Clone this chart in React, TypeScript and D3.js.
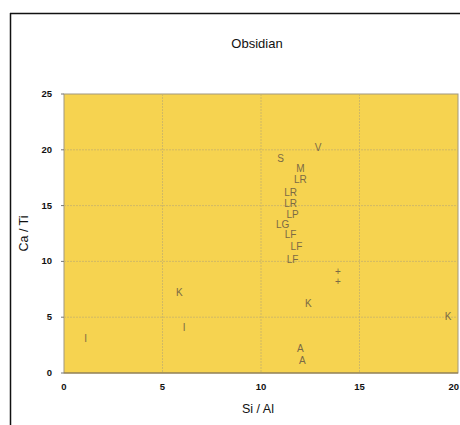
import * as d3 from "d3";
import { useEffect, useRef } from "react";

// sample codes and their ratios
const codes = ["V", "S", "M", "LR", "LR", "LR", "LP", "LG", "LF", "LF", "LF", "+", "+", "K", "K", "A", "A", "K", "I", "I"];
const siAl = [12.9, 11.0, 12.0, 12.0, 11.5, 11.5, 11.6, 11.1, 11.5, 11.8, 11.6, 13.9, 13.9, 12.4, 19.5, 12.0, 12.1, 5.85, 6.1, 1.1];
const caTi = [20.2, 19.2, 18.3, 17.3, 16.2, 15.2, 14.2, 13.3, 12.4, 11.3, 10.2, 9.1, 8.2, 6.2, 5.1, 2.2, 1.1, 7.2, 4.1, 3.1];

const xTicks = [0, 5, 10, 15, 20];
const yTicks = [0, 5, 10, 15, 20, 25];

const W = 460;
const H = 425;
const margin = { top: 94, right: 2, bottom: 52, left: 64 };

export default function App() {
  const ref = useRef<SVGSVGElement>(null);

  useEffect(() => {
    const svg = d3.select(ref.current);
    svg.selectAll("*").remove();

    const x = d3.scaleLinear().domain([0, 20]).range([margin.left, W - margin.right]);
    const y = d3.scaleLinear().domain([0, 25]).range([H - margin.bottom, margin.top]);

    svg.append("rect").attr("width", W).attr("height", H).attr("fill", "#fff");

    // outer frame (left + top)
    svg.append("line").attr("x1", 10.5).attr("x2", 10.5).attr("y1", 13).attr("y2", H).attr("stroke", "#111").attr("stroke-width", 1.5);
    svg.append("line").attr("x1", 10).attr("x2", W).attr("y1", 13.5).attr("y2", 13.5).attr("stroke", "#111").attr("stroke-width", 1.5);

    // plot area
    svg.append("rect")
      .attr("x", x(0)).attr("y", y(25))
      .attr("width", x(20) - x(0)).attr("height", y(0) - y(25))
      .attr("fill", "#f6d350")
      .attr("stroke", "#a09880");

    const grid = svg.append("g").attr("stroke", "#c7b26a").attr("stroke-width", 0.8).attr("stroke-dasharray", "2,1");
    grid.selectAll(".gx").data(xTicks.slice(1, -1)).enter().append("line")
      .attr("x1", d => x(d)).attr("x2", d => x(d)).attr("y1", y(25)).attr("y2", y(0));
    grid.selectAll(".gy").data(yTicks.slice(1, -1)).enter().append("line")
      .attr("x1", x(0)).attr("x2", x(20)).attr("y1", d => y(d)).attr("y2", d => y(d));

    // axis lines
    svg.append("line").attr("x1", x(0)).attr("x2", x(20)).attr("y1", y(0)).attr("y2", y(0)).attr("stroke", "#8a7440").attr("stroke-width", 1.2);

    const font = "Liberation Sans, Arial, sans-serif";

    svg.append("g").selectAll("line").data(yTicks).enter().append("line")
      .attr("x1", x(0) - 3).attr("x2", x(0)).attr("y1", d => y(d)).attr("y2", d => y(d))
      .attr("stroke", "#777");

    svg.append("g").selectAll("text").data(yTicks).enter().append("text")
      .attr("x", x(0) - 12).attr("y", d => y(d) + 3)
      .attr("text-anchor", "end")
      .attr("font-family", font).attr("font-size", 9.5).attr("font-weight", "bold").attr("fill", "#111")
      .text(d => d);

    // last label would run past the right edge, so pull it in
    svg.append("g").selectAll("text").data(xTicks).enter().append("text")
      .attr("x", d => (d === 20 ? W - 1 : x(d)))
      .attr("y", y(0) + 17)
      .attr("text-anchor", d => (d === 20 ? "end" : "middle"))
      .attr("font-family", font).attr("font-size", 9.5).attr("font-weight", "bold").attr("fill", "#111")
      .text(d => d);

    // point labels
    svg.append("g").selectAll("text").data(codes).enter().append("text")
      .attr("x", (_, i) => x(siAl[i]))
      .attr("y", (_, i) => y(caTi[i]) + 3.5)
      .attr("text-anchor", "middle")
      .attr("font-family", font).attr("font-size", 10).attr("fill", "#7b6a45")
      .text(d => d);

    svg.append("text")
      .attr("x", 257).attr("y", 48)
      .attr("text-anchor", "middle")
      .attr("font-family", font).attr("font-size", 13).attr("fill", "#111")
      .text("Obsidian");

    svg.append("text")
      .attr("x", 258).attr("y", 413)
      .attr("text-anchor", "middle")
      .attr("font-family", font).attr("font-size", 12.5).attr("fill", "#111")
      .text("Si / Al");

    svg.append("text")
      .attr("transform", `translate(28, ${(y(0) + y(25)) / 2}) rotate(-90)`)
      .attr("text-anchor", "middle")
      .attr("font-family", font).attr("font-size", 12.5).attr("fill", "#111")
      .text("Ca / Ti");
  }, []);

  return <svg ref={ref} width={W} height={H} style={{ position: "absolute", left: 0, top: 0 }} />;
}
